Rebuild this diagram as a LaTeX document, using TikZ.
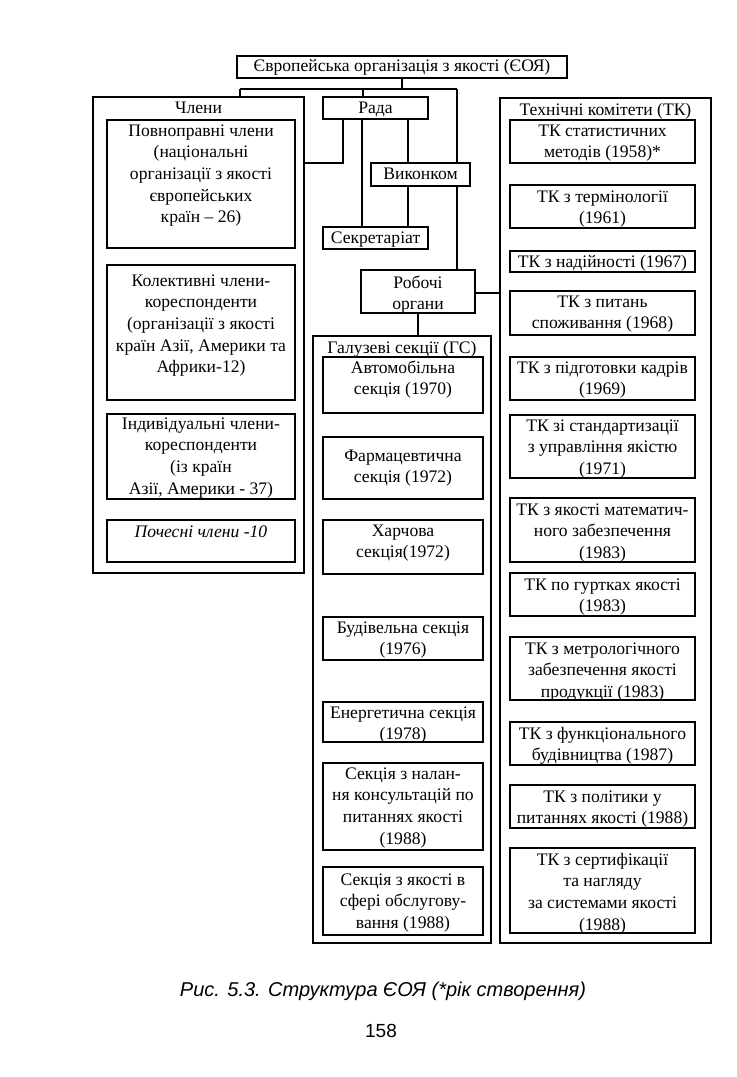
\documentclass[tikz,border=0pt]{standalone}
\usepackage{fontspec}
\setmainfont{Liberation Serif}
\newfontfamily\capfont{Liberation Sans}
\newcommand\tf{\fontsize{8.8}{10.85}\selectfont}
\tikzset{
  bx/.style={draw, line width=0.9pt, inner sep=0pt, outer sep=0pt},
  ln/.style={line width=0.9pt},
}
% name, x1, y1, x2, y2, top pad (px), text lines
\newcommand\tb[7]{%
\pgfmathsetmacro\tbw{(#4-#2)*0.5}%
\pgfmathsetmacro\tbh{(#5-#3)*0.5}%
\pgfmathsetmacro\tbp{#6*0.5}%
\node[bx, anchor=north west] (#1) at (#2,#3) {\parbox[c][\tbh pt][t]{\tbw pt}{\vspace*{\tbp pt}\makebox[\tbw pt]{\tf\begin{tabular}{@{}c@{}}#7\end{tabular}}}};}
\begin{document}
\begin{tikzpicture}[x=0.5pt, y=-0.5pt]
\fill[white] (0,0) rectangle (737,1077);
\useasboundingbox (0,0) rectangle (737,1077);

% top
\tb{eoya}{237}{56}{567}{78}{0}{Європейська організація з якості (ЄОЯ)}

% members
\tb{chl}{93}{97}{304}{573}{1}{Члени}
\tb{p1}{107}{120}{295}{248}{1}{Повноправні члени\\(національні\\організації з якості\\європейських\\країн – 26)}
\tb{p2}{107}{265}{295}{400}{6}{Колективні члени-\\кореспонденти\\(організації з якості\\країн Азії, Америки та\\Африки-12)}
\tb{p3}{107}{414}{295}{499}{0}{Індивідуальні члени-\\кореспонденти\\(із країн\\Азії, Америки - 37)}
\tb{p4}{107}{520}{295}{562}{2}{\textit{Почесні члени -10}}

% centre
\tb{rada}{323}{97}{428}{119}{1}{Рада}
\tb{vyk}{371}{163}{470}{186}{1}{Виконком}
\tb{sek}{323}{227}{428}{249}{1}{Секретаріат}
\tb{rob}{361}{270}{475}{313}{3}{Робочі\\органи}

% branch sections
\tb{gs}{313}{336}{491}{943}{2}{Галузеві секції (ГС)}
\tb{g1}{323}{357}{483}{413}{1}{Автомобільна\\секція (1970)}
\tb{g2}{323}{437}{483}{499}{9}{Фармацевтична\\секція (1972)}
\tb{g3}{323}{520}{483}{574}{1}{Харчова\\секція(1972)}
\tb{g4}{323}{617}{483}{660}{1}{Будівельна секція\\(1976)}
\tb{g5}{323}{702}{483}{742}{1}{Енергетична секція\\(1978)}
\tb{g6}{323}{763}{483}{850}{1}{Секція з налан-\\ня консультацій по\\питаннях якості\\(1988)}
\tb{g7}{323}{867}{483}{935}{3}{Секція з якості в\\сфері обслугову-\\вання (1988)}

% technical committees
\tb{tk}{500}{98}{711}{943}{2}{Технічні комітети (ТК)}
\tb{t1}{510}{120}{695}{163}{1}{ТК статистичних\\методів (1958)*}
\tb{t2}{510}{185}{695}{228}{2}{ТК з термінології\\(1961)}
\tb{t3}{510}{251}{695}{272}{1}{ТК з надійності (1967)}
\tb{t4}{510}{291}{695}{335}{1}{ТК з питань\\споживання (1968)}
\tb{t5}{510}{357}{695}{400}{1}{ТК з підготовки кадрів\\(1969)}
\tb{t6}{510}{415}{695}{478}{1}{ТК зі стандартизації\\з управління якістю\\(1971)}
\tb{t7}{510}{498}{695}{562}{2}{ТК з якості математич-\\ного забезпечення\\(1983)}
\tb{t8}{510}{573}{695}{616}{2}{ТК по гуртках якості\\(1983)}
\tb{t9}{510}{637}{695}{700}{2}{ТК з метрологічного\\забезпечення якості\\продукції (1983)}
\tb{t10}{510}{722}{695}{765}{2}{ТК з функціонального\\будівництва (1987)}
\tb{t11}{510}{785}{695}{828}{2}{ТК з політики у\\питаннях якості (1988)}
\tb{t12}{510}{848}{695}{933}{2}{ТК з сертифікації\\та нагляду\\за системами якості\\(1988)}

% connectors
\coordinate (jL) at (240,89);
\coordinate (jM) at (363,89);
\coordinate (jR) at (457,89);
\coordinate (xa) at (343,163);
\coordinate (xb) at (362,0);
\coordinate (xc) at (408,0);
\coordinate (yr) at (0,293);
\draw[ln] (eoya.south) -- (eoya.south |- jL);
\draw[ln] (jL) -- (jR);
\draw[ln] (jL) -- (jL |- chl.north);
\draw[ln] (jM) -- (jM |- rada.north);
\draw[ln] (jR) -- (jR |- vyk.north);
\draw[ln] (jR |- vyk.south) -- (jR |- rob.north);
\draw[ln] (xa |- rada.south) -- (xa) -- (xa -| chl.east);
\draw[ln] (xb |- rada.south) -- (xb |- sek.north);
\draw[ln] (xc |- rada.south) -- (xc |- vyk.north);
\draw[ln] (xc |- vyk.south) -- (xc |- sek.north);
\draw[ln] (rob.east |- yr) -- (tk.west |- yr);
\draw[ln] (rob.south) -- (rob.south |- gs.north);

% caption
\node[font=\capfont\itshape\fontsize{10}{12}\selectfont] (cap) at (383,991) {Рис. 5.3. Структура ЄОЯ (*рік створення)};
\node[font=\capfont\fontsize{9.5}{11}\selectfont] (pg) at (381,1031) {158};
\end{tikzpicture}
\end{document}
